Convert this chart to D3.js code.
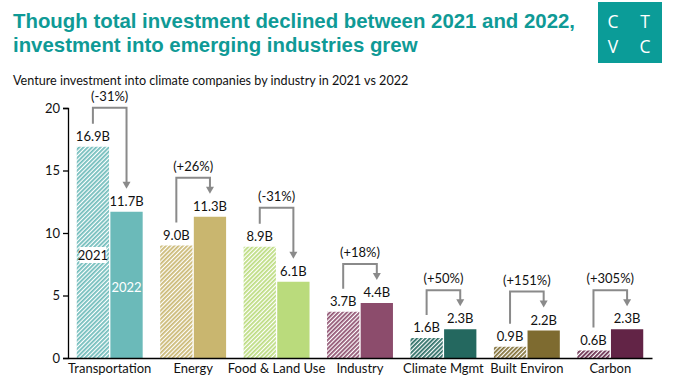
<!DOCTYPE html>
<html><head><meta charset="utf-8">
<script src="https://cdn.jsdelivr.net/npm/d3@7"></script>
<style>body{margin:0;background:#fff}text{font-kerning:normal}</style>
</head><body>
<svg id="c" width="675" height="390"></svg>
<script>
const categories = ["Transportation","Energy","Food & Land Use","Industry","Climate Mgmt","Built Environ","Carbon"];
const years = ["2021","2022"];
const values2021 = [16.9, 9.0, 8.9, 3.7, 1.6, 0.9, 0.6];
const values2022 = [11.7, 11.3, 6.1, 4.4, 2.3, 2.2, 2.3];
const valueLabels2021 = ["16.9B","9.0B","8.9B","3.7B","1.6B","0.9B","0.6B"];
const valueLabels2022 = ["11.7B","11.3B","6.1B","4.4B","2.3B","2.2B","2.3B"];
const changeLabels = ["(-31%)","(+26%)","(-31%)","(+18%)","(+50%)","(+151%)","(+305%)"];
const colors = ["#6bbab9","#c9b66f","#badb7c","#8c4c6c","#24685f","#7e6b30","#622446"];
const yTicks = [0,5,10,15,20];
const titleLines = ["Though total investment declined between 2021 and 2022,","investment into emerging industries grew"];
const subtitle = "Venture investment into climate companies by industry in 2021 vs 2022";

const svg = d3.select("#c");
const FONT = "Lato, 'Open Sans', sans-serif";
const TEAL = "#0f9a96";

const x = d3.scaleBand().domain(categories).range([68, 652]).paddingInner(0.21).paddingOuter(0.105);
const xi = d3.scaleBand().domain(years).range([0, x.bandwidth()]).paddingInner(0.04);
const y = d3.scaleLinear().domain([0, 20]).range([358, 108]);

// patterns
const defs = svg.append("defs");
colors.forEach((c, i) => {
  const p = defs.append("pattern").attr("id", "h" + i).attr("patternUnits", "userSpaceOnUse")
    .attr("width", 3).attr("height", 3).attr("patternTransform", "rotate(45)");
  p.append("rect").attr("width", 3).attr("height", 3).attr("fill", "#fff");
  p.append("line").attr("x1", 0.9).attr("y1", 0).attr("x2", 0.9).attr("y2", 3)
    .attr("stroke", c).attr("stroke-width", 1.7);
});

// title
svg.append("g").selectAll("text").data(titleLines).join("text")
  .attr("x", 13).attr("y", (d, i) => 28 + i * 24)
  .attr("font-family", "'Liberation Sans', Arial, sans-serif").attr("font-weight", "bold")
  .attr("font-size", 20.4).attr("fill", TEAL).text(d => d);

// logo
const logo = svg.append("g");
logo.append("rect").attr("x", 598).attr("y", 2).attr("width", 64).attr("height", 61).attr("fill", "#0b9c98");
[["C", 613, 28], ["T", 645, 28], ["V", 613, 53], ["C", 645, 53]].forEach(([t, lx, ly]) => {
  logo.append("text").attr("x", lx).attr("y", ly).attr("text-anchor", "middle")
    .attr("font-family", "'Open Sans', sans-serif").attr("font-weight", 400)
    .attr("font-size", 17.5).attr("fill", "#fff").text(t);
});

// subtitle
svg.append("text").attr("x", 13).attr("y", 85).attr("font-family", FONT).attr("font-size", 12.6)
  .attr("fill", "#111").text(subtitle);

// axes
const yAxis = svg.append("g").attr("transform", "translate(68,0)")
  .call(d3.axisLeft(y).tickValues(yTicks).tickSize(5).tickPadding(3));
yAxis.select(".domain").attr("stroke", "#000").attr("stroke-width", 1.3);
yAxis.selectAll(".tick line").attr("stroke", "#000").attr("stroke-width", 1.3);
yAxis.selectAll("text").attr("font-family", FONT).attr("font-size", 13).attr("fill", "#111");

// bars
const data = categories.map((c, i) => ({ c, i, v1: values2021[i], v2: values2022[i] }));
const groups = svg.append("g").selectAll("g").data(data).join("g")
  .attr("transform", d => `translate(${x(d.c)},0)`);

groups.append("rect").attr("x", xi("2021")).attr("width", xi.bandwidth())
  .attr("y", d => y(d.v1)).attr("height", d => y(0) - y(d.v1))
  .attr("fill", d => `url(#h${d.i})`);
groups.append("rect").attr("x", xi("2022")).attr("width", xi.bandwidth())
  .attr("y", d => y(d.v2)).attr("height", d => y(0) - y(d.v2))
  .attr("fill", d => colors[d.i]);

// value labels
groups.append("text").attr("x", xi("2021") + xi.bandwidth() / 2).attr("y", d => y(d.v1) - 6)
  .attr("text-anchor", "middle").attr("font-family", FONT).attr("font-size", 13).attr("fill", "#111")
  .text(d => valueLabels2021[d.i]);
groups.append("text").attr("x", xi("2022") + xi.bandwidth() / 2).attr("y", d => y(d.v2) - 6)
  .attr("text-anchor", "middle").attr("font-family", FONT).attr("font-size", 13).attr("fill", "#111")
  .text(d => valueLabels2022[d.i]);

// brackets
const ARROW = "#8a8a8a";
groups.each(function (d) {
  const g = d3.select(this);
  const x1 = xi("2021") + xi.bandwidth() / 2, x2 = xi("2022") + xi.bandwidth() / 2;
  const yStart = y(d.v1) - 23, yTip = y(d.v2) - 23;
  const yTop = Math.min(y(d.v1), y(d.v2)) - 39;
  g.append("path").attr("d", `M${x1},${yStart}V${yTop}H${x2}V${yTip - 6}`)
    .attr("fill", "none").attr("stroke", ARROW).attr("stroke-width", 2);
  g.append("path").attr("d", `M${x2 - 4},${yTip - 7}L${x2 + 4},${yTip - 7}L${x2},${yTip}Z`).attr("fill", ARROW);
  g.append("text").attr("x", (x1 + x2) / 2).attr("y", yTop - 7).attr("text-anchor", "middle")
    .attr("font-family", FONT).attr("font-size", 13).attr("fill", "#111").text(changeLabels[d.i]);
});

// x axis
const xAxis = svg.append("g").attr("transform", "translate(0,358)")
  .call(d3.axisBottom(x).tickSize(0).tickPadding(6));
xAxis.select(".domain").attr("stroke", "#000").attr("stroke-width", 1.3);
xAxis.selectAll("text").attr("font-family", FONT).attr("font-size", 13).attr("fill", "#111");

// year legend inside first bars
const first = data[0];
const lx1 = x(first.c) + xi("2021") + xi.bandwidth() / 2;
const lx2 = x(first.c) + xi("2022") + xi.bandwidth() / 2;
svg.append("rect").attr("x", lx1 - 13.5).attr("y", 247).attr("width", 27).attr("height", 16).attr("fill", "#fff");
svg.append("text").attr("x", lx1).attr("y", 260).attr("text-anchor", "middle")
  .attr("font-family", FONT).attr("font-size", 13).attr("fill", "#111").text(years[0]);
svg.append("text").attr("x", lx2).attr("y", 292).attr("text-anchor", "middle")
  .attr("font-family", FONT).attr("font-size", 13).attr("fill", "#fff").text(years[1]);
</script>
</body></html>
